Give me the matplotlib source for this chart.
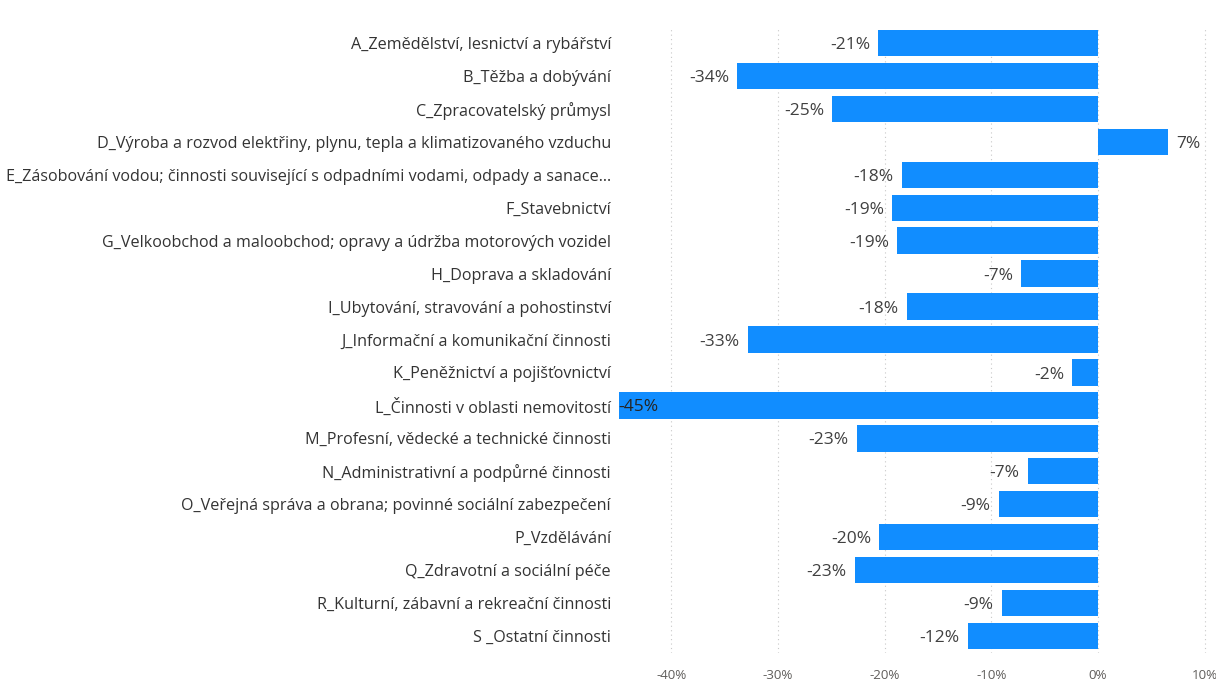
import matplotlib
matplotlib.use("Agg")
import matplotlib.pyplot as plt
from matplotlib.ticker import FuncFormatter

plt.rcParams['font.family'] = ['Open Sans', 'DejaVu Sans']

categories = [
    "A_Zemědělství, lesnictví a rybářství",
    "B_Těžba a dobývání",
    "C_Zpracovatelský průmysl",
    "D_Výroba a rozvod elektřiny, plynu, tepla a klimatizovaného vzduchu",
    "E_Zásobování vodou; činnosti související s odpadními vodami, odpady a sanace...",
    "F_Stavebnictví",
    "G_Velkoobchod a maloobchod; opravy a údržba motorových vozidel",
    "H_Doprava a skladování",
    "I_Ubytování, stravování a pohostinství",
    "J_Informační a komunikační činnosti",
    "K_Peněžnictví a pojišťovnictví",
    "L_Činnosti v oblasti nemovitostí",
    "M_Profesní, vědecké a technické činnosti",
    "N_Administrativní a podpůrné činnosti",
    "O_Veřejná správa a obrana; povinné sociální zabezpečení",
    "P_Vzdělávání",
    "Q_Zdravotní a sociální péče",
    "R_Kulturní, zábavní a rekreační činnosti",
    "S _Ostatní činnosti",
]
changes = [-0.206, -0.338, -0.249, 0.066, -0.184, -0.193, -0.188, -0.072, -0.179,
           -0.328, -0.024, -0.449, -0.226, -0.066, -0.093, -0.205, -0.228, -0.090, -0.122]
x_ticks = [-0.4, -0.3, -0.2, -0.1, 0.0, 0.1]

BAR = "#118DFF"
XMIN, XMAX = -0.45, 0.105

fig = plt.figure(figsize=(12.16, 6.81), dpi=100)
ax = fig.add_axes([618 / 1216, 1 - 652.5 / 681, (1210 - 618) / 1216, (652.5 - 26.5) / 681])

ypos = list(range(len(categories)))
ax.barh(ypos, changes, height=0.8, color=BAR, zorder=2)
ax.set_xlim(XMIN, XMAX)
ax.set_ylim(len(categories) - 0.5, -0.5)

ax.set_yticks(ypos)
ax.set_yticklabels(categories, fontsize=11.6, color="#333333")
ax.tick_params(axis="y", length=0, pad=5)

ax.set_xticks(x_ticks)
ax.xaxis.set_major_formatter(FuncFormatter(lambda v, p: f"{v * 100:.0f}%"))
ax.tick_params(axis="x", length=0, pad=12, labelsize=9.6, labelcolor="#605E5C")
ax.grid(axis="x", linestyle=(0, (1, 3)), color="#C8C8C8", linewidth=0.8, zorder=0)
for s in ax.spines.values():
    s.set_visible(False)

for y, v in zip(ypos, changes):
    label = f"{v * 100:.0f}%"
    if v >= 0:
        ax.annotate(label, (v, y), xytext=(6, -1.5), textcoords="offset points",
                    ha="left", va="center", fontsize=12.5, color="#404040")
    elif v <= XMIN + 0.02:
        ax.annotate(label, (XMIN, y), xytext=(0, -1.5), textcoords="offset points",
                    ha="left", va="center", fontsize=12.5, color="#252423", zorder=3)
    else:
        ax.annotate(label, (v, y), xytext=(-6, -1.5), textcoords="offset points",
                    ha="right", va="center", fontsize=12.5, color="#404040")

fig.savefig("out.png", dpi=100)
